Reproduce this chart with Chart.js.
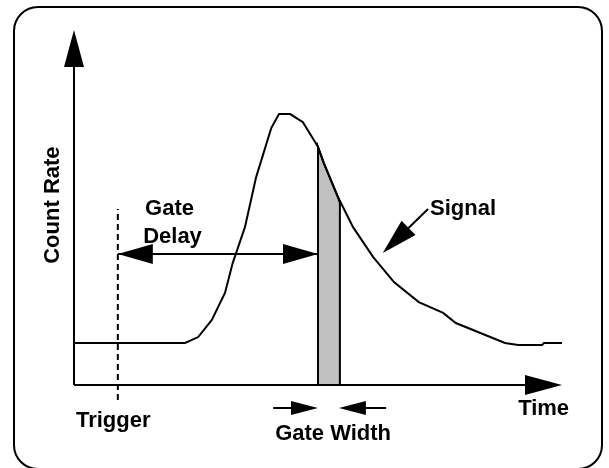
<!DOCTYPE html>
<html>
<head>
<meta charset="utf-8">
<script src="https://cdn.jsdelivr.net/npm/chart.js@4/dist/chart.umd.min.js"></script>
<style>
  html, body { margin: 0; padding: 0; background: #fff; }
  #wrap { width: 609px; height: 468px; }
</style>
</head>
<body>
<div id="wrap"><canvas id="chart" width="609" height="468"></canvas></div>
<script>
// signal curve (time vs count rate, arbitrary units)
const timeData = [0, 22.8, 25.5, 28.3, 31.0, 32.6, 35.1, 37.4, 40.5, 42.1, 44.4, 47.0, 49.5, 50.1, 51.3, 54.2, 57.3, 61.4, 65.7, 70.8, 75.8, 78.4, 88.5, 91.2, 96.1, 96.5, 100.2];
const rateData = [12, 12, 13.7, 18.6, 26.3, 34.9, 45.1, 59.4, 73.4, 77.4, 77.4, 75.1, 69.4, 68, 63.4, 53.7, 45.1, 36.6, 29.4, 23.7, 20.6, 17.7, 12, 11.4, 11.4, 12, 12];

// shaded gate window
const gateTime = [50.1, 50.1, 51.3, 54.2, 54.6, 54.6];
const gateRate = [0, 68, 63.4, 53.7, 52, 0];

// annotations
const triggerTime = 9.0;
const triggerRange = [-4.3, 50.3];
const delayRate = 37.4;
const widthRate = -6.6;
const widthArrowOuter = [40.9, 64.1];
const signalArrow = [72.7, 50.3, 63.4, 37.7];
const axisTip = [100.2, 101.4];

const labelText = ['Gate', 'Delay', 'Signal', 'Trigger', 'Time', 'Gate Width'];
const labelTime = [14.6, 14.2, 73.1, 0.4, 91.2, 41.3];
const labelRate = [48.6, 40.6, 48.6, -12, -8.6, -15.7];
const yTitle = 'Count Rate';
const yTitlePos = [-4.3, 51.4];

const FONT = 'bold 22px "Liberation Sans", Arial, sans-serif';

function toPoints(xs, ys) {
    return xs.map((x, i) => ({ x: x, y: ys[i] }));
}

function arrowHead(ctx, x1, y1, x2, y2, len, half) {
    const a = Math.atan2(y2 - y1, x2 - x1);
    const bx = x2 - len * Math.cos(a), by = y2 - len * Math.sin(a);
    ctx.beginPath();
    ctx.moveTo(x2, y2);
    ctx.lineTo(bx + half * Math.sin(a), by - half * Math.cos(a));
    ctx.lineTo(bx - half * Math.sin(a), by + half * Math.cos(a));
    ctx.closePath();
    ctx.fill();
}

function line(ctx, x1, y1, x2, y2) {
    ctx.beginPath();
    ctx.moveTo(x1, y1);
    ctx.lineTo(x2, y2);
    ctx.stroke();
}

// frame, axes, arrows and text
const schematic = {
    id: 'schematic',
    beforeDraw(chart) {
        const ctx = chart.ctx;
        ctx.save();
        ctx.fillStyle = '#fff';
        ctx.fillRect(0, 0, chart.width, chart.height);
        ctx.strokeStyle = '#000';
        ctx.lineWidth = 2;
        ctx.beginPath();
        ctx.roundRect(14, 7, 588, 462, 24);
        ctx.stroke();
        ctx.restore();
    },
    afterDatasetsDraw(chart) {
        const ctx = chart.ctx;
        const xs = chart.scales.x, ys = chart.scales.y;
        const px = v => xs.getPixelForValue(v);
        const py = v => ys.getPixelForValue(v);
        ctx.save();
        ctx.strokeStyle = '#000';
        ctx.fillStyle = '#000';
        ctx.lineWidth = 2;

        // axes
        const x0 = px(0), y0 = py(0);
        line(ctx, x0, y0, x0, py(axisTip[1]) + 10);
        arrowHead(ctx, x0, y0, x0, py(axisTip[1]), 37, 10);
        line(ctx, x0, y0, px(axisTip[0]) - 10, y0);
        arrowHead(ctx, x0, y0, px(axisTip[0]), y0, 37, 10);

        // trigger
        ctx.setLineDash([6, 4]);
        line(ctx, px(triggerTime), py(triggerRange[0]), px(triggerTime), py(triggerRange[1]));
        ctx.setLineDash([]);

        // gate delay
        const dl = px(triggerTime), dr = px(gateTime[0]), dy = py(delayRate);
        line(ctx, dl, dy, dr, dy);
        arrowHead(ctx, dr, dy, dl, dy, 35, 10);
        arrowHead(ctx, dl, dy, dr, dy, 35, 10);

        // gate width
        const wy = py(widthRate);
        line(ctx, px(widthArrowOuter[0]), wy, px(gateTime[0]) - 10, wy);
        arrowHead(ctx, px(widthArrowOuter[0]), wy, px(gateTime[0]), wy, 27, 7);
        line(ctx, px(widthArrowOuter[1]), wy, px(gateTime[5]) + 10, wy);
        arrowHead(ctx, px(widthArrowOuter[1]), wy, px(gateTime[5]) - 1, wy, 27, 7);

        // signal pointer
        const sx1 = px(signalArrow[0]), sy1 = py(signalArrow[1]);
        const sx2 = px(signalArrow[2]), sy2 = py(signalArrow[3]);
        line(ctx, sx1, sy1, (sx1 + sx2) / 2, (sy1 + sy2) / 2);
        arrowHead(ctx, sx1, sy1, sx2, sy2, 36, 10);

        // text
        ctx.font = FONT;
        ctx.textBaseline = 'alphabetic';
        ctx.textAlign = 'left';
        labelText.forEach((t, i) => {
            ctx.fillText(t, px(labelTime[i]), py(labelRate[i]));
        });
        ctx.save();
        ctx.translate(px(yTitlePos[0]), py(yTitlePos[1]));
        ctx.rotate(-Math.PI / 2);
        ctx.textAlign = 'center';
        ctx.textBaseline = 'middle';
        ctx.fillText(yTitle, 0, 0);
        ctx.restore();

        ctx.restore();
    }
};

new Chart(document.getElementById('chart'), {
    type: 'scatter',
    data: {
        datasets: [
            {
                label: 'Gate',
                data: toPoints(gateTime, gateRate),
                showLine: true,
                fill: 'origin',
                backgroundColor: '#c0c0c0',
                borderColor: '#000',
                borderWidth: 2,
                pointRadius: 0,
                tension: 0,
                order: 2
            },
            {
                label: 'Signal',
                data: toPoints(timeData, rateData),
                showLine: true,
                fill: false,
                borderColor: '#000',
                borderWidth: 2,
                pointRadius: 0,
                tension: 0,
                order: 1
            }
        ]
    },
    options: {
        responsive: false,
        devicePixelRatio: 1,
        animation: false,
        clip: false,
        layout: { padding: { left: 74, right: 48, top: 35, bottom: 83 } },
        plugins: { legend: { display: false }, tooltip: { enabled: false } },
        scales: {
            x: { type: 'linear', min: 0, max: 100, display: false },
            y: { type: 'linear', min: 0, max: 100, display: false }
        }
    },
    plugins: [schematic]
});
</script>
</body>
</html>
